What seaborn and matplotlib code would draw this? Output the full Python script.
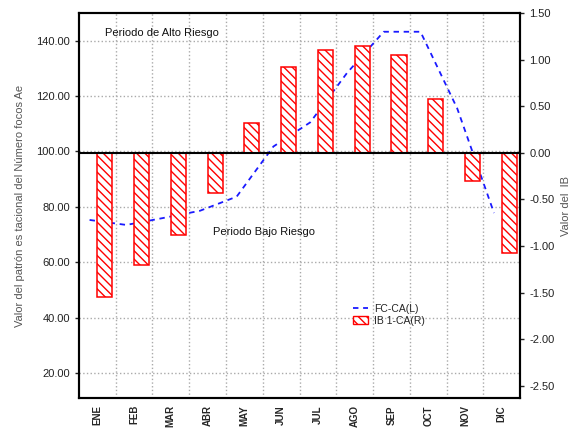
import matplotlib
matplotlib.use('Agg')
import matplotlib.pyplot as plt
import seaborn as sns
import numpy as np
from matplotlib.lines import Line2D
from matplotlib.patches import Patch
from matplotlib.ticker import FormatStrFormatter

meses = ['ENE', 'FEB', 'MAR', 'ABR', 'MAY', 'JUN', 'JUL', 'AGO', 'SEP', 'OCT', 'NOV', 'DIC']
fc_ca = [75.3, 73.5, 76.0, 78.6, 83.7, 101.8, 110.5, 128.3, 143.2, 143.2, 115.5, 77.8]
ib1_ca = [-1.55, -1.20, -0.88, -0.43, 0.32, 0.92, 1.10, 1.14, 1.05, 0.58, -0.30, -1.07]

sns.set_style('white')
plt.rcParams['font.family'] = ['Liberation Sans', 'DejaVu Sans']
plt.rcParams['hatch.color'] = 'red'
plt.rcParams['hatch.linewidth'] = 1.0

fig = plt.figure(figsize=(5.76, 4.30), dpi=100)
ax = fig.add_axes([0.137, 0.074, 0.766, 0.896])
ax2 = ax.twinx()

pos = np.arange(len(meses))

# serie FC-CA (eje izquierdo), linea discontinua
sns.lineplot(x=pos - 0.21, y=fc_ca, ax=ax, color='#1a1aff', linewidth=1.3,
             linestyle=(0, (3, 2.6)))

# serie IB 1-CA (eje derecho), barras rayadas
sns.barplot(x=pos + 0.205, y=ib1_ca, ax=ax2, native_scale=True, width=0.41,
            color='white', saturation=1, edgecolor='red', linewidth=1.1,
            hatch='\\\\\\\\', errorbar=None)
ax2.axhline(0, color='black', lw=1.5, zorder=5)

ax.set_xlim(-0.5, 11.5)
ax2.set_xlim(-0.5, 11.5)
ax.set_ylim(11, 150)
ax2.set_ylim(-2.63, 1.5)

ax.set_xticks(pos)
ax.set_xticklabels(meses, rotation=90, fontsize=7, fontweight='bold')
ax.set_xticks(pos[:-1] + 0.5, minor=True)
ax.tick_params(axis='x', which='major', length=0, pad=5)
ax.tick_params(axis='x', which='minor', length=2, direction='in', width=1)

ax.set_yticks([20, 40, 60, 80, 100, 120, 140])
ax.yaxis.set_major_formatter(FormatStrFormatter('%.2f'))
ax2.set_yticks(np.arange(-2.5, 1.51, 0.5))
ax2.yaxis.set_major_formatter(FormatStrFormatter('%.2f'))
ax.tick_params(axis='y', labelsize=8, length=3, width=1, colors='#222222')
ax2.tick_params(axis='y', labelsize=8, length=3, width=1, colors='#222222')
ax2.set_xlabel('')
ax2.tick_params(axis='x', which='both', bottom=False, labelbottom=False)

ax.grid(True, axis='y', linestyle=':', color='#aaaaaa', linewidth=1)
ax.grid(True, axis='x', which='minor', linestyle=':', color='#aaaaaa', linewidth=1)
ax.set_axisbelow(True)

for a in (ax, ax2):
    for s in a.spines.values():
        s.set_color('black')
        s.set_linewidth(1.5)

ax.set_ylabel('Valor del patrón es tacional del Número focos Ae', fontsize=8,
              color='#555555', labelpad=8)
ax2.set_ylabel('Valor del  IB', fontsize=8, color='#555555', labelpad=5)

ax.text(0.06, 0.948, 'Periodo de Alto Riesgo', transform=ax.transAxes,
        fontsize=8, va='center', ha='left', color='#111111', zorder=6)
ax.text(0.305, 0.431, 'Periodo Bajo Riesgo', transform=ax.transAxes,
        fontsize=8, va='center', ha='left', color='#111111', zorder=6)

handles = [Line2D([0], [0], color='#1a1aff', lw=1.3, linestyle=(0, (3, 2.6))),
           Patch(facecolor='white', edgecolor='red', hatch='\\\\\\\\')]
ax2.legend(handles, ['FC-CA(L)', 'IB 1-CA(R)'], loc='upper left',
           bbox_to_anchor=(0.6, 0.27), frameon=False, fontsize=7.5,
           handlelength=1.4, handletextpad=0.6, labelspacing=0.2)

fig.savefig('out.png', dpi=100)
